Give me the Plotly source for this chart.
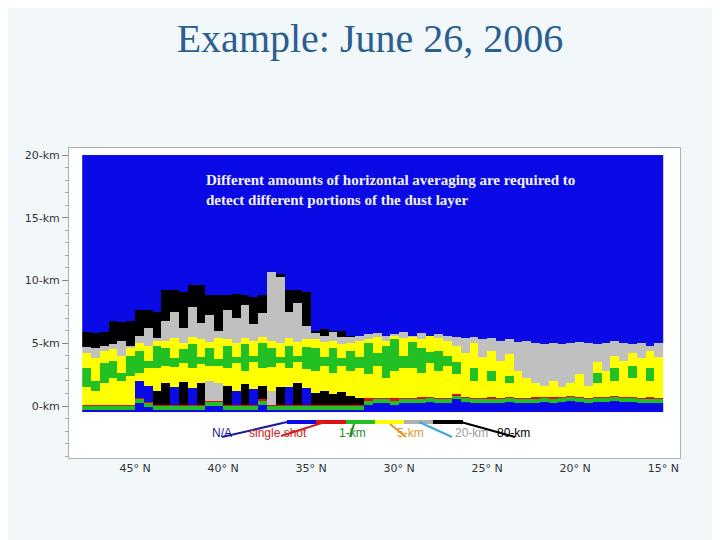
import numpy as np
import plotly.graph_objects as go

# ---- data ----
lat = [47.75 - 0.5 * i for i in range(66)]
black_top = [5.9,5.8,5.9, 6.8,6.7,6.8, 7.6,7.6,7.5, 9.2,9.2,9.1,9.6,9.6, 8.8,8.8,
             8.8,8.9,8.8,8.7,8.8, 10.7,10.5, 9.2,9.2,9.1, 6.0,6.1,6.0,6.0, 5.6,5.5] + [0]*34
gray_top = [4.7,4.6,4.8, 4.9,5.2,4.8, 5.6,6.2,5.4, 6.8,7.5,6.2,7.9,6.6, 7.2,6.0,
            7.6,7.0,8.0,6.5,7.4, 10.7,10.3, 7.5,8.2,6.4, 5.8,5.6,5.9,5.5, 5.5,5.6,
            5.7,5.8,5.6,5.7,5.9,5.6,5.8,5.5,5.7,5.6,
            5.5,5.4,5.5,5.3,5.4,5.2,5.3,5.1,5.2,5.0,
            4.9,5.0,4.9,5.0,5.1,5.0,4.9,5.0,5.2,5.0,4.9,5.0,4.8,5.0]
yel_top = [4.2,3.8,4.4, 4.5,4.0,4.6, 5.0,4.8,5.2, 5.2,5.4,5.0,5.5,5.3, 5.1,5.4,
           5.3,5.0,5.4,5.2,5.5, 5.2,5.0, 5.4,5.1,5.3, 5.3,5.1,5.2,4.9, 5.0,5.2,
           5.3,5.5,5.2,5.6,5.4,5.5,5.3,5.6,5.4,5.2,
           4.8,4.2,5.0,3.9,4.4,3.6,4.1,2.8,2.2,1.8,
           1.6,2.0,1.5,1.8,2.5,1.6,3.5,2.8,4.0,3.6,4.2,3.8,4.4,3.9]
green_hi = [3.0,2.0,3.4, 3.6,2.6,4.0, 4.4,3.6,4.8, 4.6,3.8,4.5,4.9,3.9, 4.6,3.7,
            4.8,3.9,4.9,4.0,5.0, 4.6,3.9, 4.8,4.0,4.7, 4.6,3.9,4.6,3.8, 4.4,3.9,
            5.0,4.2,4.8,5.3,4.0,5.1,4.6,4.3,4.4,4.0,
            3.5,0,3.0,0,2.8,0,2.4,0,0,0,
            0,0,0,0,0,0,2.6,0,3.0,0,3.2,0,3.0,0]
green_lo = [1.5,1.2,1.8, 2.2,2.0,2.4, 2.6,3.0,3.0, 3.2,3.1,3.4,3.0,3.3, 3.2,3.2,
            3.0,3.4,2.8,3.5,3.0, 3.1,3.4, 3.0,3.5,2.9, 2.8,3.2,2.6,3.2, 2.8,3.0,
            2.5,3.2,2.2,2.8,3.0,3.0,2.6,3.4,2.8,3.2,
            2.5,0,2.0,0,2.0,0,1.8,0,0,0,
            0,0,0,0,0,0,1.8,0,2.0,0,2.2,0,2.0,0]
low_top = [0,0,0, 0,0,0, 2.0,1.6,1.2, 1.8,1.5,1.9,1.4,1.8, 2.0,1.8,
           1.6,1.2,1.7,1.3,1.6, 1.2,1.5, 1.5,1.8,1.4, 1.0,1.2,0.9,1.1, 0.8,0.6] + [0]*34
low_cls = [5,5,5, 5,5,5, 0,0,5, 5,0,5,0,5, 4,4,
           5,0,5,0,5, 4,5, 0,5,0, 5,5,5,5, 5,5] + [5]*34
sfc = [0.0,0.0,0.0, 0.0,0.0,0.0, 0.5,0.2,0.0, 0.0,0.0,0.0,0.0,0.0, 0.3,0.3,
       0.0,0.0,0.0,0.0,0.4, 0.0,0.0, 0.0,0.0,0.0, 0.0,0.0,0.0,0.0, 0.0,0.0,
       0.45,0.5,0.5,0.45,0.5,0.5,0.55,0.6,0.5,0.5,
       0.8,0.6,0.5,0.5,0.55,0.5,0.6,0.5,0.5,0.55,
       0.6,0.55,0.6,0.7,0.6,0.5,0.6,0.6,0.7,0.6,0.6,0.5,0.55,0.5]
y_ticks = [0, 5, 10, 15, 20]
y_labels = ["0-km", "5-km", "10-km", "15-km", "20-km"]
x_ticks = [45, 40, 35, 30, 25, 20, 15]
x_labels = ["45° N", "40° N", "35° N", "30° N", "25° N", "20° N", "15° N"]
legend_names = ["N/A", "single shot", "1-km", "5-km", "20-km", "80-km"]
legend_colors = ["#0A0AE6", "#E01010", "#22C022", "#FFFF00", "#C0C0C0", "#000000"]
legend_text_colors = ["#1A1A9A", "#CC2020", "#1E8C1E", "#E0962A", "#9A9A9A", "#000000"]

# ---- build curtain ----
alts = np.arange(-0.45, 20.0, 0.1)
z = np.zeros((len(alts), len(lat)))
for j in range(len(lat)):
    s = sfc[j]
    lt = max(low_top[j], s + 0.15)
    bt = max(black_top[j], gray_top[j])
    for i, y in enumerate(alts):
        if y < s - 0.3: c = 0
        elif y < s: c = 2
        elif y < s + 0.15: c = 1
        elif y < lt: c = low_cls[j]
        elif y < yel_top[j]: c = 2 if green_lo[j] <= y < green_hi[j] else 3
        elif y < gray_top[j]: c = 4
        elif y < bt: c = 5
        else: c = 0
        z[i, j] = c

cs = []
for k, col in enumerate(legend_colors):
    cs.append([k / 6, col]); cs.append([(k + 1) / 6, col])

fig = go.Figure(go.Heatmap(x=lat, y=alts, z=z, colorscale=cs, zmin=-0.5, zmax=5.5,
                           showscale=False, hoverinfo="skip"))

OFF = 8
L, R, T, B = 69 - OFF, 680 - OFF, 148 - OFF, 458 - OFF
def px(xp): return (xp - OFF - L) / (R - L)
def py(yp): return (B - (yp - OFF)) / (B - T)

shapes = []
seg = [287, 316, 346, 375, 404, 433, 463]
for k in range(6):
    shapes.append(dict(type="line", xref="paper", yref="paper", x0=px(seg[k]), x1=px(seg[k+1]),
                       y0=py(422), y1=py(422), line=dict(color=legend_colors[k] if k != 4 else "#B0B0B0", width=4)))
leaders = [(287, 422, 222, 437, "#1A1A9A"), (325, 422, 281, 436, "#CC2020"),
           (354, 424, 350, 437, "#1E8C1E"), (390, 424, 406, 437, "#E0962A"),
           (419, 422, 452, 437, "#3AAAD8"), (461, 422, 515, 437, "#000000")]
for x0, y0, x1, y1, c in leaders:
    shapes.append(dict(type="line", xref="paper", yref="paper", x0=px(x0), y0=py(y0),
                       x1=px(x1), y1=py(y1), line=dict(color=c, width=2)))

annots = [dict(xref="paper", yref="paper", x=px(204), y=py(170), xanchor="left", yanchor="top",
               showarrow=False, align="left",
               text="Different amounts of horizontal averaging are required to<br>detect different portions of the dust layer",
               font=dict(family="Liberation Serif", size=15, color="#F2F2F2", weight="bold"))]
lab_x = [210, 278, 352, 410, 472, 532]
for k in range(6):
    annots.append(dict(xref="paper", yref="paper", x=px(lab_x[k]), y=py(442), showarrow=False,
                       text=legend_names[k], font=dict(family="Liberation Sans", size=12,
                                                       color=legend_text_colors[k])))

fig.update_layout(
    width=720, height=540, margin=dict(l=L, r=720 - R, t=T, b=540 - B),
    paper_bgcolor="#F2F7FA", plot_bgcolor="white",
    title=dict(text="Example: June 26, 2006", x=(370 - OFF) / 720, xanchor="center",
               y=1 - (38 - OFF) / 540, yanchor="middle",
               font=dict(family="Liberation Serif", size=40, color="#2A5F8F")),
    xaxis=dict(range=[48.75, 14.05], tickvals=x_ticks, ticktext=x_labels, showgrid=False,
               zeroline=False, ticks="", tickfont=dict(family="DejaVu Sans", size=11, color="#333"),
               showline=True, linecolor="#B0B0B0", mirror=True),
    yaxis=dict(range=[-4.14, 20.56], tickvals=y_ticks, ticktext=y_labels, showgrid=False,
               zeroline=False, ticks="outside", ticklen=6, tickcolor="#888",
               minor=dict(dtick=1, ticks="outside", ticklen=3, tickcolor="#AAA"),
               tickfont=dict(family="DejaVu Sans", size=11, color="#333"),
               showline=True, linecolor="#B0B0B0", mirror=True),
    shapes=shapes, annotations=annots,
)
fig.write_html("out.html")
